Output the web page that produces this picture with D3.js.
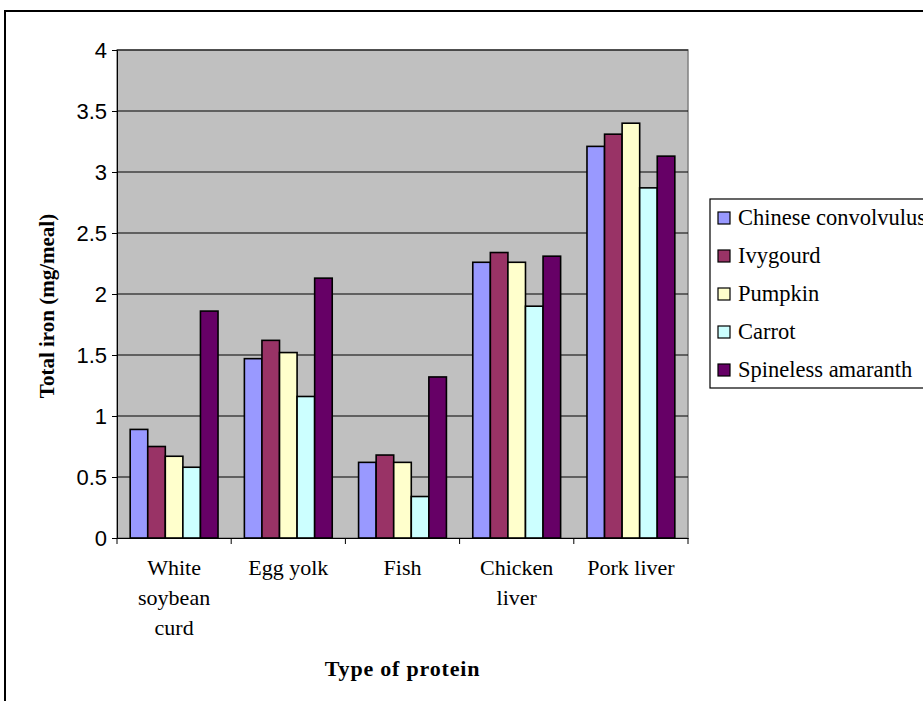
<!DOCTYPE html>
<html><head><meta charset="utf-8">
<script src="https://cdn.jsdelivr.net/npm/d3@7"></script>
<style>body{margin:0;background:#fff;}svg{display:block;}</style>
</head><body>
<script>
const categories = [["White","soybean","curd"],["Egg yolk"],["Fish"],["Chicken","liver"],["Pork liver"]];
const categoryKeys = ["White soybean curd","Egg yolk","Fish","Chicken liver","Pork liver"];
const seriesNames = ["Chinese convolvulus","Ivygourd","Pumpkin","Carrot","Spineless amaranth"];
const chineseConvolvulus = [0.89, 1.47, 0.62, 2.26, 3.21];
const ivygourd = [0.75, 1.62, 0.68, 2.34, 3.31];
const pumpkin = [0.67, 1.52, 0.62, 2.26, 3.40];
const carrot = [0.58, 1.16, 0.34, 1.90, 2.87];
const spinelessAmaranth = [1.86, 2.13, 1.32, 2.31, 3.13];
const seriesValues = [chineseConvolvulus, ivygourd, pumpkin, carrot, spinelessAmaranth];
const colors = ["#9999FF","#993366","#FFFFCC","#CCFFFF","#660066"];
const yTicks = [0,0.5,1,1.5,2,2.5,3,3.5,4];

const W = 923, H = 701;
const serif = "'Liberation Serif', 'Times New Roman', serif";
const svg = d3.select("body").append("svg").attr("width", W).attr("height", H);

// outer frame
svg.append("path").attr("d", `M5,${H} L5,11 L${W+5},11`).attr("fill","none").attr("stroke","#000").attr("stroke-width",2);

const plot = {x0:117, x1:688, y0:50, y1:538};
const x0 = d3.scaleBand().domain(categoryKeys).range([plot.x0, plot.x1]).paddingInner(0.2308).paddingOuter(0.1154);
const xOuter = d3.scaleBand().domain(categoryKeys).range([plot.x0, plot.x1]);
const x1 = d3.scaleBand().domain(seriesNames).range([0, x0.bandwidth()]);
const y = d3.scaleLinear().domain([0,4]).range([plot.y1, plot.y0]);

svg.append("rect").attr("x",plot.x0).attr("y",plot.y0).attr("width",plot.x1-plot.x0).attr("height",plot.y1-plot.y0)
  .attr("fill","#C0C0C0").attr("stroke","#808080").attr("stroke-width",1.5);

// gridlines
svg.append("g").selectAll("line").data(yTicks.slice(1)).join("line")
  .attr("x1",plot.x0).attr("x2",plot.x1).attr("y1",d=>y(d)).attr("y2",d=>y(d))
  .attr("stroke","#000").attr("stroke-width",1);

// bars
const groups = svg.append("g").selectAll("g").data(seriesNames).join("g")
  .attr("fill",(d,i)=>colors[i]);
groups.selectAll("rect").data((s,i)=>seriesValues[i].map((v,j)=>({s, v, c:categoryKeys[j]}))).join("rect")
  .attr("x",d=>x0(d.c)+x1(d.s)).attr("width",x1.bandwidth())
  .attr("y",d=>y(d.v)).attr("height",d=>y(0)-y(d.v))
  .attr("stroke","#000").attr("stroke-width",1.6);

// y axis
const yAxis = d3.axisLeft(y).tickValues(yTicks).tickSize(5).tickFormat(d3.format("~g"));
const gy = svg.append("g").attr("transform",`translate(${plot.x0},0)`).call(yAxis);
gy.select(".domain").attr("stroke","#000");
gy.selectAll("text").attr("font-family","'Liberation Sans', Arial, sans-serif").attr("font-size",22).attr("fill","#000").attr("x",-10);

// x axis
const xAxis = d3.axisBottom(xOuter).tickSize(0).tickFormat("");
const gx = svg.append("g").attr("transform",`translate(0,${plot.y1})`).call(xAxis);
gx.select(".domain").attr("stroke","#000");
gx.selectAll(".tk").data(d3.range(categoryKeys.length+1)).join("line").attr("class","tk")
  .attr("x1",i=>plot.x0 + i*xOuter.step()).attr("x2",i=>plot.x0 + i*xOuter.step())
  .attr("y1",0).attr("y2",6).attr("stroke","#000");
const lbl = svg.append("g").selectAll("text").data(categories).join("text")
  .attr("font-family",serif).attr("font-size",22).attr("text-anchor","middle")
  .attr("transform",(d,i)=>`translate(${xOuter(categoryKeys[i])+xOuter.bandwidth()/2},575)`);
lbl.selectAll("tspan").data(d=>d).join("tspan").attr("x",0).attr("dy",(d,i)=>i===0?0:30).text(d=>d);

// axis titles
svg.append("text").attr("transform","translate(54,306) rotate(-90)").attr("text-anchor","middle")
  .attr("font-family",serif).attr("font-weight","bold").attr("font-size",21)
  .text("Total iron (mg/meal)");
svg.append("text").attr("x",(plot.x0+plot.x1)/2).attr("y",676).attr("text-anchor","middle")
  .attr("font-family",serif).attr("font-weight","bold").attr("font-size",22).attr("letter-spacing",0.8)
  .text("Type of protein");

// legend
const lg = svg.append("g");
lg.append("rect").attr("x",710).attr("y",199).attr("width",260).attr("height",189).attr("fill","#fff").attr("stroke","#000").attr("stroke-width",1.2);
const items = lg.selectAll("g").data(seriesNames).join("g").attr("transform",(d,i)=>`translate(718,${218+i*38})`);
items.append("rect").attr("x",0).attr("y",-6).attr("width",12).attr("height",12).attr("fill",(d,i)=>colors[i]).attr("stroke","#000").attr("stroke-width",1.2);
items.append("text").attr("x",20).attr("y",7).attr("font-family",serif).attr("font-size",22.5).text(d=>d);
</script>
</body></html>
